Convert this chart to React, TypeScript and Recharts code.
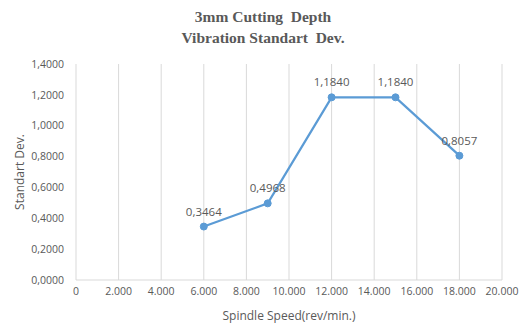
import { LineChart, Line, XAxis, YAxis, CartesianGrid, LabelList } from 'recharts';

// spindle speeds (rev/min) and the vibration standard deviation measured at each
const spindleSpeeds = [6000, 9000, 12000, 15000, 18000];
const stdDevValues = [0.3464, 0.4968, 1.184, 1.184, 0.8057];

const xTicks = [0, 2000, 4000, 6000, 8000, 10000, 12000, 14000, 16000, 18000, 20000];
const yTicks = [0, 0.2, 0.4, 0.6, 0.8, 1.0, 1.2, 1.4];

const data = spindleSpeeds.map((speed, i) => ({ speed, dev: stdDevValues[i] }));

const textColor = '#595959';
const font = '"Open Sans", sans-serif';

// 1,4000 style decimals and 12.000 style thousands
const fmtDecimal = (v: number) => v.toFixed(4).replace('.', ',');
const fmtThousands = (v: number) => (v === 0 ? '0' : v.toLocaleString('de-DE'));

export default function App() {
  return (
    <div style={{ position: 'absolute', left: 0, top: 0, width: 521, height: 324, background: '#fff' }}>
      <div
        style={{
          position: 'absolute',
          top: 6,
          left: 0,
          width: 526,
          textAlign: 'center',
          fontFamily: '"Liberation Serif", serif',
          fontWeight: 'bold',
          fontSize: 15.5,
          lineHeight: '21px',
          color: textColor,
        }}
      >
        <div>3mm Cutting&nbsp; Depth</div>
        <div>Vibration Standart&nbsp; Dev.</div>
      </div>
      <LineChart
        width={521}
        height={324}
        data={data}
        margin={{ top: 64, right: 19, bottom: 0, left: 0 }}
        style={{ position: 'absolute', left: 0, top: 0 }}
      >
        <CartesianGrid horizontal={false} stroke="#D9D9D9" />
        <XAxis
          dataKey="speed"
          type="number"
          domain={[0, 20000]}
          ticks={xTicks}
          tickFormatter={fmtThousands}
          interval={0}
          height={44}
          axisLine={{ stroke: '#D9D9D9' }}
          tickLine={false}
          tick={{ fill: textColor, fontSize: 10.5, fontFamily: font }}
          label={{
            value: 'Spindle Speed(rev/min.)',
            position: 'insideBottom',
            offset: 4,
            fill: textColor,
            fontSize: 12,
            fontFamily: font,
          }}
        />
        <YAxis
          type="number"
          domain={[0, 1.4]}
          ticks={yTicks}
          tickFormatter={fmtDecimal}
          width={76}
          axisLine={false}
          tickLine={false}
          tickSize={6}
          tickMargin={6}
          tick={{ fill: textColor, fontSize: 10.5, fontFamily: font }}
          label={{
            value: 'Standart Dev.',
            angle: -90,
            position: 'center',
            dx: -18,
            fill: textColor,
            fontSize: 12,
            fontFamily: font,
          }}
        />
        <Line
          type="linear"
          dataKey="dev"
          stroke="#5B9BD5"
          strokeWidth={2.25}
          dot={{ r: 3.5, fill: '#5B9BD5', stroke: '#5B9BD5', strokeWidth: 1 }}
          isAnimationActive={false}
        >
          <LabelList
            dataKey="dev"
            position="top"
            offset={11}
            formatter={(v: number) => fmtDecimal(v)}
            fill={textColor}
            fontSize={11.5}
            fontFamily={font}
          />
        </Line>
      </LineChart>
    </div>
  );
}
